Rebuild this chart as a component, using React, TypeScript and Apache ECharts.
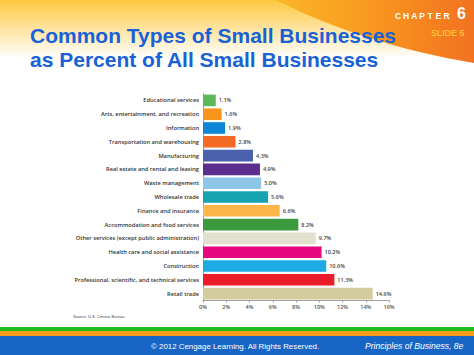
import React, { useEffect, useRef } from "react";
import * as echarts from "echarts";

const categories = [
  "Educational services",
  "Arts, entertainment, and recreation",
  "Information",
  "Transportation and warehousing",
  "Manufacturing",
  "Real estate and rental and leasing",
  "Waste management",
  "Wholesale trade",
  "Finance and insurance",
  "Accommodation and food services",
  "Other services (except public administration)",
  "Health care and social assistance",
  "Construction",
  "Professional, scientific, and technical services",
  "Retail trade",
];
const values = [1.1, 1.6, 1.9, 2.8, 4.3, 4.9, 5.0, 5.6, 6.6, 8.2, 9.7, 10.2, 10.6, 11.3, 14.6];
const barColors = [
  "#5cb85a", "#f7951d", "#0e86d6", "#f26a24", "#4a62ad", "#5c2f8f", "#8ec6e8", "#17a4b0",
  "#fcb64a", "#3c9a3e", "#e2e0cf", "#e6087f", "#1eaae2", "#eb1c2a", "#d3cd9e",
];
const xTicks = [0, 2, 4, 6, 8, 10, 12, 14, 16];

const titleLines = ["Common Types of Small Businesses", "as Percent of All Small Businesses"];
const sourceText = "Source: U.S. Census Bureau";
const footerLeft = "\u00A9 2012 Cengage Learning. All Rights Reserved.";
const footerRight = "Principles of Business, 8e";
const chapterWord = "CHAPTER";

export default function App() {
  const ref = useRef<HTMLDivElement>(null);
  useEffect(() => {
    if (!ref.current) return;
    const chart = echarts.init(ref.current, null, { renderer: "svg" });
    const labelFont = "'Open Sans', 'Noto Sans', sans-serif";
    const chapterLetters = chapterWord.split("").map((ch, i) => ({
      type: "text",
      x: 395 + i * 8.1,
      y: 11,
      style: {
        text: ch,
        fill: "#ffffff",
        font: "bold 8.5px 'Liberation Sans', Arial, sans-serif",
      },
    }));
    chart.setOption({
      animation: false,
      backgroundColor: "#ffffff",
      graphic: [
        {
          type: "rect",
          z: -10,
          shape: { x: 0, y: 0, width: 474, height: 90 },
          style: {
            fill: new echarts.graphic.LinearGradient(0, 0, 0, 1, [
              { offset: 0, color: "#fcc93e" },
              { offset: 0.3, color: "#fde29a" },
              { offset: 0.65, color: "#ffffff" },
              { offset: 1, color: "#ffffff" },
            ]),
          },
        },
        {
          type: "ellipse",
          z: -9,
          shape: { cx: 620, cy: -225, rx: 520, ry: 300 },
          style: {
            fill: new echarts.graphic.LinearGradient(
              200, 0, 474, 0,
              [
                { offset: 0, color: "#fcc52f" },
                { offset: 0.35, color: "#fbb126" },
                { offset: 0.65, color: "#f8951f" },
                { offset: 0.85, color: "#f58020" },
                { offset: 1, color: "#f37221" },
              ],
              true
            ),
          },
        },
        {
          type: "text",
          left: 30,
          top: 24,
          style: {
            text: titleLines.join("\n"),
            fill: "#1862d6",
            font: "bold 21px 'Liberation Sans', Arial, sans-serif",
            lineHeight: 23.5,
          },
        },
        ...chapterLetters,
        {
          type: "text",
          x: 457,
          y: 5,
          style: {
            text: "6",
            fill: "#ffffff",
            font: "bold 16px 'Liberation Sans', Arial, sans-serif",
          },
        },
        {
          type: "text",
          x: 431,
          y: 28,
          style: {
            text: "SLIDE 6",
            fill: "#ffd641",
            font: "9px 'Liberation Sans', Arial, sans-serif",
          },
        },
        {
          type: "text",
          x: 73,
          y: 314,
          style: {
            text: sourceText,
            fill: "#444444",
            font: "4px 'Liberation Sans', Arial, sans-serif",
          },
        },
        { type: "rect", shape: { x: 0, y: 327, width: 474, height: 4 }, style: { fill: "#22bb1e" } },
        { type: "rect", shape: { x: 0, y: 331, width: 474, height: 5 }, style: { fill: "#f59c1a" } },
        { type: "rect", shape: { x: 0, y: 336, width: 474, height: 19 }, style: { fill: "#1766c6" } },
        {
          type: "text",
          x: 151,
          y: 342,
          style: {
            text: footerLeft,
            fill: "#ffffff",
            font: "7.9px 'Liberation Sans', Arial, sans-serif",
          },
        },
        {
          type: "text",
          x: 365,
          y: 341,
          style: {
            text: footerRight,
            fill: "#ffffff",
            font: "italic 8.6px 'Liberation Sans', Arial, sans-serif",
          },
        },
      ],
      grid: { left: 203, right: 85, top: 93.5, bottom: 54.5, containLabel: false },
      xAxis: {
        type: "value",
        min: 0,
        max: 16,
        interval: 2,
        axisLine: { show: true, lineStyle: { color: "#888888", width: 0.8 } },
        axisTick: { show: true, length: 2, lineStyle: { color: "#888888", width: 0.8 } },
        splitLine: { show: false },
        axisLabel: {
          formatter: (v: number) => (xTicks.includes(v) ? v + "%" : ""),
          fontSize: 5.5,
          fontWeight: 600,
          color: "#555555",
          fontFamily: labelFont,
          margin: 3,
        },
      },
      yAxis: {
        type: "category",
        inverse: true,
        data: categories,
        axisLine: { show: true, lineStyle: { color: "#888888", width: 0.8 } },
        axisTick: { show: false },
        axisLabel: {
          fontSize: 5.7,
          fontWeight: 600,
          color: "#333333",
          fontFamily: labelFont,
          margin: 4,
        },
      },
      series: [
        {
          type: "bar",
          data: values.map((v, i) => ({ value: v, itemStyle: { color: barColors[i] } })),
          barCategoryGap: "16%",
          label: {
            show: true,
            position: "right",
            distance: 3,
            formatter: (p: any) => p.value.toFixed(1) + "%",
            fontSize: 5.5,
            fontWeight: 600,
            color: "#444444",
            fontFamily: labelFont,
          },
        },
      ],
    });
    return () => chart.dispose();
  }, []);
  return (
    <div
      ref={ref}
      style={{ position: "fixed", left: 0, top: 0, width: 474, height: 355 }}
    />
  );
}
